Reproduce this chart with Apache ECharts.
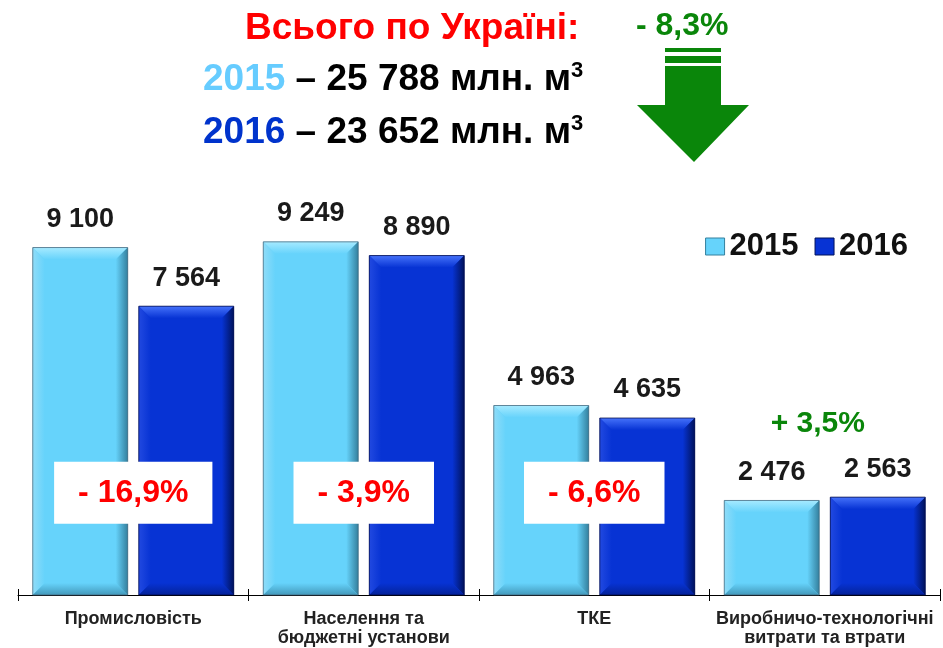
<!DOCTYPE html>
<html>
<head>
<meta charset="utf-8">
<script src="https://cdn.jsdelivr.net/npm/echarts@6/dist/echarts.min.js"></script>
<style>
html,body{margin:0;padding:0;background:#fff;}
#chart{width:943px;height:648px;}
</style>
</head>
<body>
<div id="chart"></div>
<script>
// ---- data ----
const categories = ['Промисловість', 'Населення та\nбюджетні установи', 'ТКЕ', 'Виробничо-технологічні\nвитрати та втрати'];
const seriesNames = ['2015', '2016'];
const values2015 = [9100, 9249, 4963, 2476];
const values2016 = [7564, 8890, 4635, 2563];
const changeLabels = ['- 16,9%', '- 3,9%', '- 6,6%', '+ 3,5%'];
const totalsLabel = 'Всього по Україні:';
const total2015 = '25 788';
const total2016 = '23 652';
const totalChange = '- 8,3%';

// ---- styles ----
const FONT = 'Arial, "Liberation Sans", sans-serif';
const palettes = [
  { face: '#66d3fb', top: '#a6eaff', left: '#8fdcf8', right: '#34809e', bottom: '#4399bb', edge: 'rgba(70,100,120,0.75)' },
  { face: '#0733d4', top: '#4572fa', left: '#2149e0', right: '#00125c', bottom: '#04229a', edge: 'rgba(0,10,70,0.75)' }
];
const GREEN = '#0a860a';

function fmt(v) { return String(v).replace(/\B(?=(\d{3})+(?!\d))/g, ' '); }

function barRenderer(si) {
  const p = palettes[si];
  return function (params, api) {
    const cat = api.value(0), val = api.value(1);
    const base = api.coord([cat, 0]);
    const top = api.coord([cat, val]);
    const band = api.size([1, 0])[0];
    const bw = band * 0.412, gap = band * 0.048;
    const x0 = si === 0 ? base[0] - gap / 2 - bw : base[0] + gap / 2;
    const x1 = x0 + bw, y0 = top[1], y1 = base[1];
    const b = 12;
    const poly = (pts, fill) => ({ type: 'polygon', shape: { points: pts }, style: { fill: fill } });
    return {
      type: 'group',
      children: [
        { type: 'rect', shape: { x: x0, y: y0, width: bw, height: y1 - y0 }, style: { fill: p.face } },
        poly([[x0, y0], [x1, y0], [x1 - b, y0 + b], [x0 + b, y0 + b]],
          { type: 'linear', x: 0, y: 0, x2: 0, y2: 1, colorStops: [{ offset: 0, color: p.top }, { offset: 1, color: p.face }] }),
        poly([[x0, y0], [x0 + b, y0 + b], [x0 + b, y1 - b], [x0, y1]],
          { type: 'linear', x: 0, y: 0, x2: 1, y2: 0, colorStops: [{ offset: 0, color: p.left }, { offset: 1, color: p.face }] }),
        poly([[x1, y0], [x1 - b, y0 + b], [x1 - b, y1 - b], [x1, y1]],
          { type: 'linear', x: 0, y: 0, x2: 1, y2: 0, colorStops: [{ offset: 0, color: p.face }, { offset: 1, color: p.right }] }),
        poly([[x0, y1], [x0 + b, y1 - b], [x1 - b, y1 - b], [x1, y1]],
          { type: 'linear', x: 0, y: 0, x2: 0, y2: 1, colorStops: [{ offset: 0, color: p.face }, { offset: 1, color: p.bottom }] }),
        { type: 'rect', shape: { x: x0, y: y0, width: bw, height: y1 - y0 }, style: { fill: null, stroke: p.edge, lineWidth: 1 } },
        { type: 'text', style: { text: fmt(val), x: (x0 + x1) / 2, y: y0 - 28, align: 'center', verticalAlign: 'middle', font: 'bold 27px ' + FONT, fill: '#1a1a1a' } }
      ]
    };
  };
}

function annotRenderer(params, api) {
  const cat = api.value(0);
  const idx = params.dataIndex;
  const label = changeLabels[idx];
  const c = api.coord([cat, 0]);
  if (label.charAt(0) === '+') {
    const hi = Math.max(values2015[idx], values2016[idx]);
    const t = api.coord([cat, hi]);
    return { type: 'text', style: { text: label, x: c[0] - 7, y: t[1] - 73, align: 'center', verticalAlign: 'middle', font: 'bold 30px ' + FONT, fill: GREEN } };
  }
  const p = api.coord([cat, 2680]);
  return {
    type: 'text',
    style: { text: label, x: c[0], y: p[1], align: 'center', verticalAlign: 'middle', font: 'bold 32px ' + FONT, fill: '#ff0000', backgroundColor: '#ffffff', padding: [15, 24, 15, 24] }
  };
}

const chart = echarts.init(document.getElementById('chart'));
chart.setOption({
  animation: false,
  backgroundColor: '#ffffff',
  grid: { left: 18, right: 3, top: 175, bottom: 48, containLabel: false },
  legend: {
    right: 30, top: 226, itemWidth: 19, itemHeight: 17, itemGap: 16,
    textStyle: { fontFamily: FONT, fontWeight: 'bold', fontSize: 31, color: '#111' },
    data: [
      { name: seriesNames[0], icon: 'rect', itemStyle: { color: palettes[0].face, borderColor: palettes[0].right, borderWidth: 1 } },
      { name: seriesNames[1], icon: 'rect', itemStyle: { color: palettes[1].face, borderColor: palettes[1].right, borderWidth: 1 } }
    ]
  },
  xAxis: [
    {
      type: 'category', data: categories, position: 'bottom',
      axisLine: { lineStyle: { color: '#000', width: 1 } },
      axisTick: { show: true, length: 6, lineStyle: { color: '#000' } },
      axisLabel: { interval: 0, margin: 15, fontFamily: FONT, fontWeight: 'bold', fontSize: 18, lineHeight: 19, color: '#222' }
    },
    {
      type: 'category', data: categories, position: 'bottom',
      axisLine: { show: false },
      axisTick: { show: true, inside: true, length: 6, lineStyle: { color: '#000' } },
      axisLabel: { show: false }
    }
  ],
  yAxis: { type: 'value', min: 0, max: 11000, show: false, splitLine: { show: false } },
  series: [
    { name: seriesNames[0], type: 'custom', renderItem: barRenderer(0), itemStyle: { color: palettes[0].face },
      encode: { x: 0, y: 1 }, data: values2015.map((v, i) => [i, v]), z: 2 },
    { name: seriesNames[1], type: 'custom', renderItem: barRenderer(1), itemStyle: { color: palettes[1].face },
      encode: { x: 0, y: 1 }, data: values2016.map((v, i) => [i, v]), z: 2 },
    { name: 'change', type: 'custom', renderItem: annotRenderer, encode: { x: 0, y: 1 },
      data: changeLabels.map((l, i) => [i, 0]), z: 5, silent: true }
  ],
  graphic: [
    { type: 'text', left: 245, top: 10, style: { text: totalsLabel, font: 'bold 37px ' + FONT, fill: '#ff0000' } },
    { type: 'text', left: 203, top: 60, style: {
      text: '{a|2015}{b| – ' + total2015 + ' млн. м}{s|3}',
      rich: {
        a: { font: 'bold 37px ' + FONT, fill: '#66ccff', color: '#66ccff', lineHeight: 40 },
        b: { font: 'bold 37px ' + FONT, fill: '#000', color: '#000', lineHeight: 40 },
        s: { font: 'bold 22px ' + FONT, fill: '#000', color: '#000', verticalAlign: 'top', lineHeight: 40 }
      } } },
    { type: 'text', left: 203, top: 113, style: {
      text: '{a|2016}{b| – ' + total2016 + ' млн. м}{s|3}',
      rich: {
        a: { font: 'bold 37px ' + FONT, fill: '#0033cc', color: '#0033cc', lineHeight: 40 },
        b: { font: 'bold 37px ' + FONT, fill: '#000', color: '#000', lineHeight: 40 },
        s: { font: 'bold 22px ' + FONT, fill: '#000', color: '#000', verticalAlign: 'top', lineHeight: 40 }
      } } },
    { type: 'text', left: 636, top: 10, style: { text: totalChange, font: 'bold 32px ' + FONT, fill: GREEN } },
    { type: 'rect', shape: { x: 665, y: 48, width: 56, height: 4 }, style: { fill: GREEN } },
    { type: 'rect', shape: { x: 665, y: 56, width: 56, height: 7 }, style: { fill: GREEN } },
    { type: 'polygon', shape: { points: [[665, 66], [721, 66], [721, 105], [749, 105], [694, 162], [637, 105], [665, 105]] }, style: { fill: GREEN } }
  ]
});
</script>
</body>
</html>
